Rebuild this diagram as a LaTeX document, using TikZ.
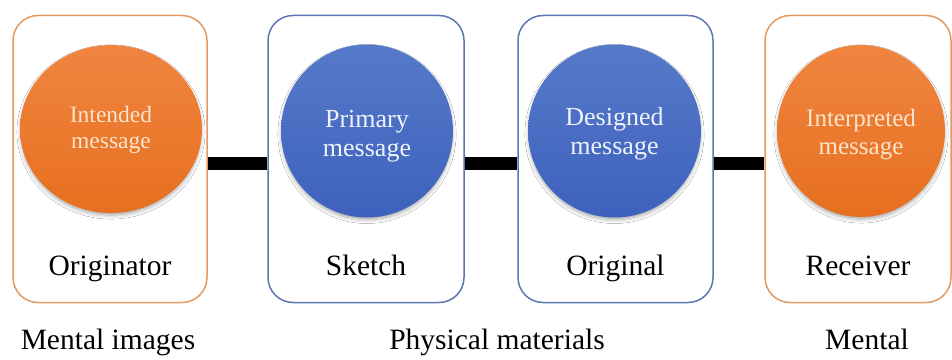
\documentclass[tikz,border=0pt]{standalone}
\usepackage{fontspec}
\setmainfont{Liberation Serif}
\usetikzlibrary{shapes.geometric,shadows.blur}

\definecolor{orangeTop}{HTML}{F08540}
\definecolor{orangeBot}{HTML}{E76F1F}
\definecolor{blueTop}{HTML}{567AC9}
\definecolor{blueBot}{HTML}{3E61BD}
\definecolor{orangeEdge}{HTML}{E39A62}
\definecolor{blueEdge}{HTML}{5B77B0}
\definecolor{orangeText}{HTML}{FCE4CC}
\definecolor{blueText}{HTML}{EEF2FA}

\tikzset{
  stagebox/.style={draw, line width=1.5pt, rounded corners=25pt,
    minimum height=287pt, inner sep=0pt, fill=white},
  mentalbox/.style={stagebox, draw=orangeEdge},
  physbox/.style={stagebox, draw=blueEdge},
  disc/.style={ellipse, inner sep=0pt,
    blur shadow={shadow xshift=0pt, shadow yshift=-3pt,
      shadow blur radius=4pt, shadow opacity=35, shadow scale=0.99}},
  warmdisc/.style={disc, top color=orangeTop, bottom color=orangeBot},
  colddisc/.style={disc, top color=blueTop, bottom color=blueBot},
  msgtext/.style={align=center, inner sep=0pt},
  stagelabel/.style={anchor=base, inner sep=0pt,
    font=\fontsize{29.5}{35}\selectfont},
  grouplabel/.style={anchor=base, inner sep=0pt,
    font=\fontsize{29.5}{35}\selectfont},
  link/.style={line width=13.5pt, draw=black}
}

\begin{document}
\begin{tikzpicture}[x=1pt,y=1pt]
  \useasboundingbox (0,0) rectangle (952,359);

  % four stage boxes
  \node[mentalbox, minimum width=194pt] (b1) at (110,200) {};
  \node[physbox,   minimum width=196pt] (b2) at (366,200) {};
  \node[physbox,   minimum width=195pt] (b3) at (615.5,200) {};
  \node[mentalbox, minimum width=186pt] (b4) at (858,200) {};

  % thick links between the boxes
  \draw[link] ([yshift=-4.5pt]b1.east) -- ([yshift=-4.5pt]b2.west);
  \draw[link] ([yshift=-4.5pt]b2.east) -- ([yshift=-4.5pt]b3.west);
  \draw[link] ([yshift=-4.5pt]b3.east) -- ([yshift=-4.5pt]b4.west);

  % message discs
  \node[warmdisc, minimum width=182pt, minimum height=168pt] (c1) at (111,230) {};
  \node[colddisc, minimum width=172pt, minimum height=173pt] (c2) at (367,228) {};
  \node[colddisc, minimum width=173pt, minimum height=173pt] (c3) at (614.5,228) {};
  \node[warmdisc, minimum width=168pt, minimum height=172pt] (c4) at (861,228) {};

  % disc texts
  \node[msgtext, text=orangeText, font=\fontsize{23.5}{26}\selectfont] (t1) at (111,229) {Intended\\message};
  \node[msgtext, text=blueText, font=\fontsize{26}{29}\selectfont] (t2) at (367,223) {Primary\\message};
  \node[msgtext, text=blueText, font=\fontsize{26}{29}\selectfont] (t3) at (614.5,225) {Designed\\message};
  \node[msgtext, text=orangeText, font=\fontsize{25}{28}\selectfont] (t4) at (861,224) {Interpreted\\message};

  % stage names
  \node[stagelabel] (l1) at (110,84) {Originator};
  \node[stagelabel] (l2) at (366,84) {Sketch};
  \node[stagelabel] (l3) at (615.5,84) {Original};
  \node[stagelabel] (l4) at (858,84) {Receiver};

  % group names
  \node[grouplabel] (g1) at (108,10) {Mental images};
  \node[grouplabel] (g2) at (497,10) {Physical materials};
  \node[grouplabel] (g3) at (867,10) {Mental};
\end{tikzpicture}
\end{document}
